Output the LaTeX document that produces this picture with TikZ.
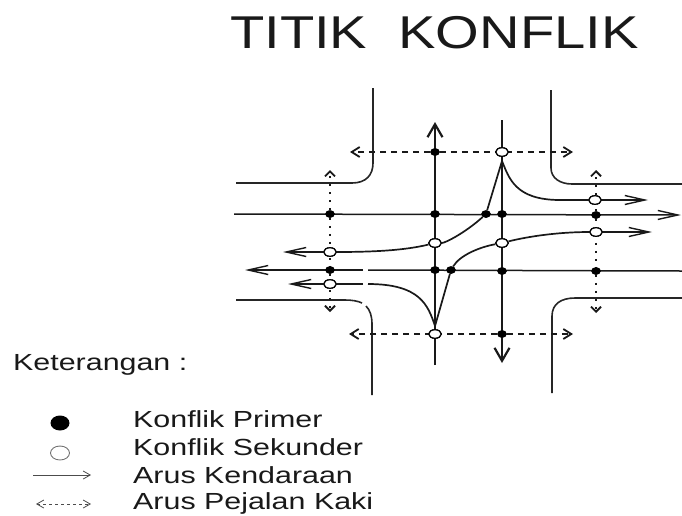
\documentclass[tikz,border=0pt]{standalone}
\usepackage{fontspec}
\usepackage{graphicx}
\setmainfont{Liberation Sans}
\usetikzlibrary{arrows.meta,shapes.geometric}
\tikzset{
 road/.style={line width=1.6pt,black!85},
 flow/.style={line width=1.5pt,black!90},
 turn/.style={line width=1.7pt,black!90},
 main/.style={line width=2.2pt,black!90},
 walkh/.style={line width=1.3pt,dash pattern=on 6pt off 5pt,black!90},
 walkv/.style={line width=1.7pt,dash pattern=on 2.5pt off 5.5pt,black!90},
 ptiph/.style={-{Straight Barb[length=8pt,width=10pt,line width=1.8pt]}},
 ptipv/.style={-{Straight Barb[length=5pt,width=10pt,line width=1.8pt]}},
 vtip/.style={-{Straight Barb[length=13pt,width=15pt,line width=2.2pt]}},
 htip/.style={-{Straight Barb[length=20pt,width=9pt,line width=1.4pt]}},
 prim/.style={ellipse,fill=black,inner sep=0pt,minimum width=9.5pt,minimum height=7.5pt},
 sek/.style={ellipse,draw=black,line width=1.2pt,fill=white,inner sep=0pt,minimum width=12.5pt,minimum height=8.5pt},
 label/.style={anchor=base west,inner sep=0pt,font=\fontsize{23.3}{26}\selectfont,black!90},
}
\newcommand{\wider}[1]{\scalebox{1.305}[1]{#1}}
\begin{document}
\begin{tikzpicture}[x=1pt,y=-1pt]
\useasboundingbox (0,0) rectangle (682,515);
\node[anchor=base west,inner sep=0pt,font=\fontsize{46}{50}\selectfont,black!90] (title) at (230,48) {\scalebox{1.22}[1]{TITIK\ \ KONFLIK}};
% roads
\coordinate (tl1) at (236,183); \coordinate (tl2) at (373,88);
\coordinate (tr1) at (551,90); \coordinate (tr2) at (682,184);
\coordinate (bl1) at (236,300); \coordinate (bl2) at (362,303);
\coordinate (bl3) at (366,306); \coordinate (bl4) at (372,395);
\coordinate (br1) at (552,393); \coordinate (br2) at (682,298);
\draw[road] (tl1) -- (352,183) .. controls (366,183) and (373,175) .. (373,163) -- (tl2);
\draw[road] (tr1) -- (551,168) .. controls (551,178) and (560,184) .. (572,184) -- (tr2);
\draw[road] (bl1) -- (345,300) .. controls (352,300) and (358,301) .. (bl2);
\draw[road] (bl3) .. controls (370,310) and (372,316) .. (372,324) -- (bl4);
\draw[road] (br1) -- (552,316) .. controls (552,304) and (561,298) .. (575,298) -- (br2);
% junction points
\node[prim] (a1) at (330,214) {};
\node[prim] (a2) at (435,214) {};
\node[prim] (a3) at (486,214) {};
\node[prim] (a4) at (502,214) {};
\node[prim] (a5) at (596,215) {};
\node[prim] (b1) at (330,270) {};
\node[prim] (b2) at (435,270) {};
\node[prim] (b3) at (451,270) {};
\node[prim] (b4) at (502,271) {};
\node[prim] (b5) at (596,271) {};
\node[prim] (t1) at (435,152) {};
\node[prim] (d1) at (502,334) {};
\coordinate (hr0) at (234,214); \coordinate (hrt) at (681,215);
\coordinate (hl0) at (682,271); \coordinate (hlt) at (245,270);
\coordinate (vu0) at (435,365); \coordinate (vut) at (435,122);
\coordinate (vd0) at (502,120); \coordinate (vdt) at (502,363);
\coordinate (pk1) at (502,161); \coordinate (pk2) at (435,326);
\coordinate (g1) at (363,270); \coordinate (g2) at (368,270);
\coordinate (g3) at (363,284); \coordinate (g4) at (368,284);
\coordinate (wt0) at (350,152); \coordinate (wt1) at (573,152);
\coordinate (wb0) at (349,334); \coordinate (wb1) at (573,334);
\coordinate (wl0) at (330,312); \coordinate (wl1) at (330,170);
\coordinate (wr0) at (596,313); \coordinate (wr1) at (596,170);
\coordinate (t1r) at (648,200); \coordinate (t2r) at (652,232);
\coordinate (t1l) at (283,252); \coordinate (t2l) at (288,284);
% through flows
\draw[flow,htip] (hr0) -- (hrt);
\draw[flow] (hl0) -- (g2);
\draw[flow,htip] (g1) -- (hlt);
\draw[main,vtip] (vu0) -- (vut);
\draw[main,vtip] (vd0) -- (vdt);
% pedestrians
\draw[walkh,ptiph] (t1) -- (wt0);
\draw[walkh,ptiph] (t1) -- (wt1);
\draw[walkh,ptiph] (d1) -- (wb0);
\draw[walkh,ptiph] (d1) -- (wb1);
\draw[walkv,ptipv] (b1) -- (wl0);
\draw[walkv,ptipv] (a1) -- (wl1);
\draw[walkv] (a1) -- (b1);
\draw[walkv,ptipv] (b5) -- (wr0);
\draw[walkv,ptipv] (a5) -- (wr1);
\draw[walkv] (a5) -- (b5);
% turning flows
\node[sek] (s1) at (502,152) {};
\node[sek] (s2) at (595,200) {};
\node[sek] (s3) at (596,232) {};
\node[sek] (s4) at (435,243) {};
\node[sek] (s5) at (502,243) {};
\node[sek] (s6) at (330,252) {};
\node[sek] (s7) at (330,284) {};
\node[sek] (s8) at (435,334) {};
\draw[turn] (a3) -- (pk1) .. controls (509,178) and (515,200) .. (560,200) -- (s2);
\draw[flow,htip] (s2) -- (t1r);
\draw[turn] (a3) .. controls (465,233) and (445,243) .. (s4);
\draw[turn] (s4) .. controls (410,249) and (385,252) .. (s6);
\draw[flow,htip] (s6) -- (t1l);
\draw[turn] (b3) .. controls (460,255) and (480,247) .. (s5);
\draw[turn] (s5) .. controls (530,236) and (560,232) .. (s3);
\draw[flow,htip] (s3) -- (t2r);
\draw[turn] (b3) -- (pk2) .. controls (428,305) and (420,284) .. (g4);
\draw[turn] (g3) -- (s7);
\draw[flow,htip] (s7) -- (t2l);
\foreach \n in {s1,s2,s3,s4,s5,s6,s7,s8} \node[sek] at (\n) {};
\foreach \n in {a1,a2,a3,a4,a5,b1,b2,b3,b4,b5,t1,d1} \node[prim] at (\n) {};
% legend
\node[label] (ket) at (13,370.5) {\wider{Keterangan :}};
\node[label] (l1) at (133,427) {\wider{Konflik Primer}};
\node[label] (l2) at (133,455.5) {\wider{Konflik Sekunder}};
\node[label] (l3) at (133,483.5) {\wider{Arus Kendaraan}};
\node[label] (l4) at (133,509.8) {\wider{Arus Pejalan Kaki}};
\node[ellipse,fill=black,inner sep=0pt,minimum width=19pt,minimum height=15pt] (k1) at (60,423) {};
\node[ellipse,draw=black!55,line width=.9pt,inner sep=0pt,minimum width=19pt,minimum height=14pt] (k2) at (60,453) {};
\coordinate (k3a) at (33,475); \coordinate (k3b) at (91,475);
\coordinate (k4a) at (36,504); \coordinate (k4b) at (91,504);
\draw[line width=.8pt,black!70,-{Straight Barb[length=7pt,width=8pt]}] (k3a) -- (k3b);
\draw[line width=.8pt,black!70,dash pattern=on 3pt off 3pt,{Straight Barb[length=7pt,width=8pt]}-{Straight Barb[length=7pt,width=8pt]}] (k4a) -- (k4b);
\end{tikzpicture}
\end{document}
